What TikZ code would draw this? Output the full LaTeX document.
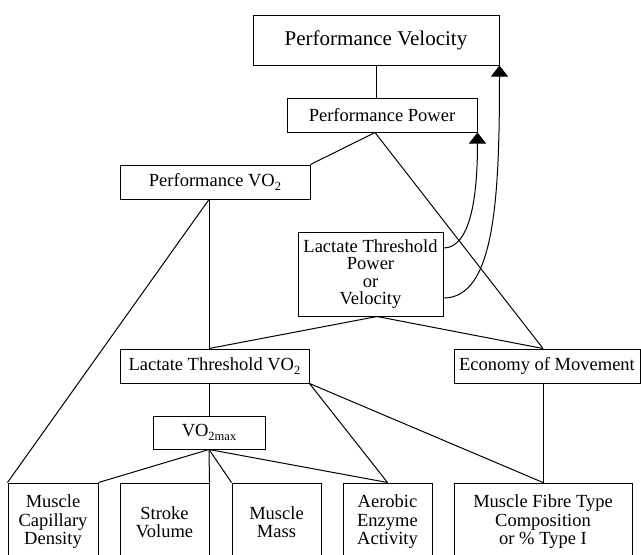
\documentclass[tikz,border=0pt]{standalone}
\usepackage{fontspec}
\setmainfont{Liberation Serif}
\usetikzlibrary{arrows.meta}
\newcommand{\lowsub}[1]{\raisebox{-0.45ex}{\fontsize{12.5}{12.5}\selectfont #1}}
\begin{document}
\begin{tikzpicture}[x=1pt,y=-1pt,
  box/.style={draw, line width=1pt, inner sep=0pt, align=center,
    font=\fontsize{18.5}{18.5}\selectfont},
  link/.style={line width=1pt},
  arr/.style={line width=1pt, -{Triangle[width=17pt,length=11pt]}}]
\useasboundingbox (0,0) rectangle (641,555);
\clip (0,0) rectangle (641,555);
% boxes
\node[box, minimum width=246pt, minimum height=50pt, font=\fontsize{21}{21}\selectfont] (pv) at (376,40) {Performance Velocity};
\node[box, minimum width=190pt, minimum height=34pt] (pp) at (382,115) {Performance Power};
\node[box, minimum width=190pt, minimum height=34pt] (pvo) at (215,182) {Performance VO\lowsub{2}};
\node[box, minimum width=145pt, minimum height=84pt, font=\fontsize{18.5}{17.2}\selectfont] (ltp) at (370.5,274) {Lactate Threshold\\Power\\or\\Velocity};
\node[box, minimum width=189pt, minimum height=34pt] (ltvo) at (214.5,366) {Lactate Threshold VO\lowsub{2}};
\node[box, minimum width=186pt, minimum height=34pt] (econ) at (547,366) {Economy of Movement};
\node[box, minimum width=112pt, minimum height=33pt] (vmax) at (209,432.5) {VO\lowsub{2max}};
\node[box, minimum width=90pt, minimum height=78pt] (mcd) at (53,522) {Muscle\\Capillary\\Density};
\node[box, minimum width=89pt, minimum height=78pt] (sv) at (164.5,522) {Stroke\\Volume};
\node[box, minimum width=89pt, minimum height=78pt] (mm) at (276.5,522) {Muscle\\Mass};
\node[box, minimum width=89pt, minimum height=78pt] (aea) at (387.5,522) {Aerobic\\Enzyme\\Activity};
\node[box, minimum width=178pt, minimum height=78pt] (mf) at (543,522) {Muscle Fibre Type\\Composition\\or \% Type I};
% connection points
\coordinate (ppb) at ([xshift=-7pt]pp.south);
\coordinate (pvob) at ([xshift=-6pt]pvo.south);
\coordinate (ltpb) at ([xshift=6.5pt]ltp.south);
\coordinate (ltvot) at ([xshift=-5.5pt]ltvo.north);
\coordinate (ltvob) at ([xshift=-5.5pt]ltvo.south);
\coordinate (econt) at ([xshift=-4pt]econ.north);
\coordinate (econb) at ([xshift=-4pt]econ.south);
\coordinate (ltpa) at ([yshift=26pt]ltp.east);
\coordinate (ltpv) at ([yshift=-24pt]ltp.east);
% connectors
\draw[link] (pv.south) -- (pv.south |- pp.north);
\draw[link] (ppb) -- (pvo.north east);
\draw[link] (ppb) -- (econt);
\draw[link] (pvob) -- (ltvot);
\draw[link] (pvob) -- (mcd.north west);
\draw[link] (ltpb) -- (ltvot);
\draw[link] (ltpb) -- (econt);
\draw[link] (ltvob) -- (vmax.north);
\draw[link] (ltvo.south east) -- (aea.north);
\draw[link] (ltvo.south east) -- (mf.north);
\draw[link] (econb) -- (mf.north);
\draw[link] (vmax.south) -- (mcd.north east);
\draw[link] (vmax.south) -- (sv.north east);
\draw[link] (vmax.south) -- (mm.north west);
\draw[link] (vmax.south) -- (aea.north);
% curved arrows
\draw[arr] (ltpa) .. controls +(26,0) and +(0,68) .. (pp.south east);
\draw[arr] (ltpv) .. controls +(51,0) and +(0,135) .. (pv.south east);
\end{tikzpicture}
\end{document}
